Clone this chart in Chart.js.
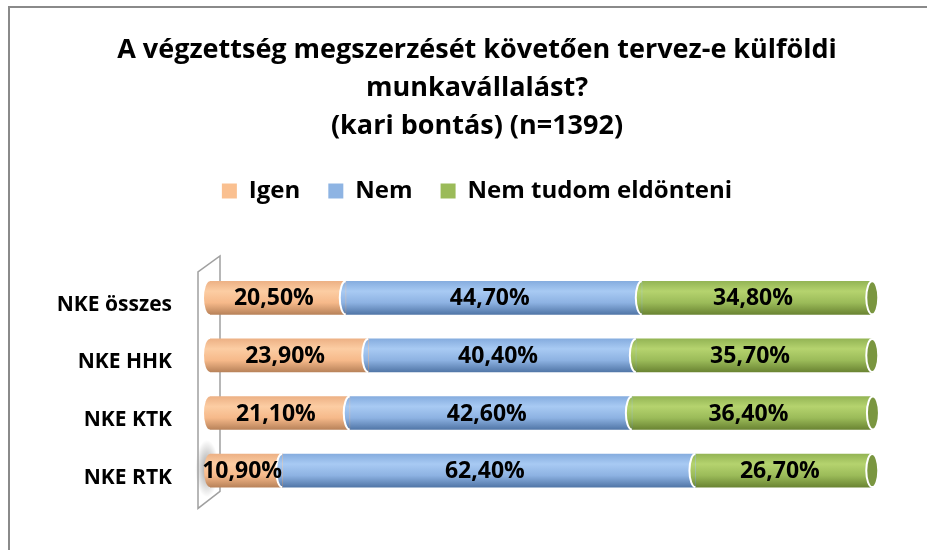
<!DOCTYPE html>
<html>
<head>
<meta charset="utf-8">
<script src="https://cdn.jsdelivr.net/npm/chart.js@4/dist/chart.umd.min.js"></script>
<style>
  body { margin: 0; background: #fff; }
  #wrap { width: 927px; height: 550px; }
</style>
</head>
<body>
<div id="wrap"><canvas id="chart" width="927" height="550"></canvas></div>
<script>
// adatok
const categories = ['NKE összes', 'NKE HHK', 'NKE KTK', 'NKE RTK'];
const seriesNames = ['Igen', 'Nem', 'Nem tudom eldönteni'];
const igen = [20.5, 23.9, 21.1, 10.9];
const nem = [44.7, 40.4, 42.6, 62.4];
const nemTudom = [34.8, 35.7, 36.4, 26.7];
const titleLines = [
    'A végzettség megszerzését követően tervez-e külföldi',
    'munkavállalást?',
    '(kari bontás) (n=1392)'
];

// színek
const legendColors = ['#FAC090', '#8EB4E3', '#9BBB59'];
const shades = [
    [[0, '#EDB185'], [0.3, '#FCCDA3'], [0.65, '#F6B98A'], [1, '#B9835A']],
    [[0, '#86ADDF'], [0.3, '#A8CAF3'], [0.65, '#8DB2E2'], [1, '#5277A8']],
    [[0, '#94B555'], [0.3, '#B5D36E'], [0.65, '#9BBB59'], [1, '#6B8533']]
];
const capColor = '#7A9640';
const FONT = '"Open Sans", Lato, sans-serif';
const BAR_H = 33;
const CAP_RX = 6;

function makeGradient(ctx, cy, h, stops) {
    const g = ctx.createLinearGradient(0, cy - h / 2, 0, cy + h / 2);
    stops.forEach(s => g.addColorStop(s[0], s[1]));
    return g;
}

// henger színátmenet soronként
function barFill(i) {
    return function (context) {
        const chart = context.chart;
        const y = chart.scales.y;
        if (!y || context.type !== 'data') return legendColors[i];
        const cy = y.getPixelForValue(context.dataIndex);
        return makeGradient(chart.ctx, cy, BAR_H, shades[i]);
    };
}

// keret
const framePlugin = {
    id: 'frame',
    beforeDraw(chart) {
        const ctx = chart.ctx;
        ctx.save();
        ctx.fillStyle = '#fff';
        ctx.fillRect(0, 0, chart.width, chart.height);
        ctx.strokeStyle = '#8a8a8a';
        ctx.lineWidth = 2;
        ctx.beginPath();
        ctx.moveTo(9, chart.height);
        ctx.lineTo(9, 7);
        ctx.lineTo(chart.width, 7);
        ctx.stroke();
        ctx.restore();
    }
};

// 3D fal bal oldalon
const wallPlugin = {
    id: 'wall',
    beforeDatasetsDraw(chart) {
        const { ctx, chartArea: a } = chart;
        ctx.save();
        // árnyék az utolsó henger mögött
        const lastBar = chart.getDatasetMeta(0).data[categories.length - 1];
        if (lastBar) {
            const sx = a.left - 3, sy = lastBar.y - 2;
            const g = ctx.createRadialGradient(sx, sy, 2, sx, sy, 26);
            g.addColorStop(0, 'rgba(0,0,0,0.35)');
            g.addColorStop(1, 'rgba(0,0,0,0)');
            ctx.save();
            ctx.translate(sx, sy);
            ctx.scale(0.45, 1.1);
            ctx.translate(-sx, -sy);
            ctx.fillStyle = g;
            ctx.fillRect(sx - 30, sy - 30, 60, 60);
            ctx.restore();
        }
        ctx.strokeStyle = '#a0a0a0';
        ctx.lineWidth = 1.5;
        ctx.beginPath();
        ctx.moveTo(a.left - 12, a.top + 3);
        ctx.lineTo(a.left - 12, a.bottom + 9);
        ctx.lineTo(a.left + 10, a.bottom - 8);
        ctx.lineTo(a.left + 10, a.top - 13);
        ctx.closePath();
        ctx.stroke();
        ctx.restore();
    }
};

function halfEllipse(ctx, x, cy, ry, fill, stroke) {
    ctx.beginPath();
    ctx.ellipse(x, cy, CAP_RX, ry, 0, Math.PI / 2, Math.PI * 1.5);
    ctx.closePath();
    ctx.fillStyle = fill;
    ctx.fill();
    if (stroke) {
        ctx.beginPath();
        ctx.ellipse(x, cy, CAP_RX, ry, 0, Math.PI / 2, Math.PI * 1.5);
        ctx.strokeStyle = stroke;
        ctx.lineWidth = 2;
        ctx.stroke();
    }
}

// henger végek és címkék
const cylinderPlugin = {
    id: 'cylinder',
    afterDatasetsDraw(chart) {
        const ctx = chart.ctx;
        const metas = seriesNames.map((s, i) => chart.getDatasetMeta(i));
        ctx.save();
        categories.forEach((c, r) => {
            const bars = metas.map(m => m.data[r]);
            const cy = bars[0].y;
            const ry = bars[0].height / 2;
            halfEllipse(ctx, bars[0].base, cy, ry, makeGradient(ctx, cy, ry * 2, shades[0]), null);
            for (let k = 1; k < bars.length; k++) {
                halfEllipse(ctx, bars[k].base, cy, ry, makeGradient(ctx, cy, ry * 2, shades[k]), '#fff');
            }
            const last = bars[bars.length - 1];
            ctx.beginPath();
            ctx.ellipse(last.x, cy, CAP_RX, ry, 0, 0, Math.PI * 2);
            ctx.fillStyle = capColor;
            ctx.fill();
            ctx.strokeStyle = '#fff';
            ctx.lineWidth = 2;
            ctx.stroke();
        });

        ctx.fillStyle = '#000';
        ctx.font = 'bold 23px ' + FONT;
        ctx.textAlign = 'center';
        ctx.textBaseline = 'middle';
        chart.data.datasets.forEach((ds, i) => {
            metas[i].data.forEach((bar, r) => {
                const txt = ds.data[r].toFixed(2).replace('.', ',') + '%';
                ctx.fillText(txt, (bar.x + bar.base) / 2 - 4, bar.y + 1);
            });
        });
        ctx.restore();
    }
};

new Chart(document.getElementById('chart'), {
    type: 'bar',
    data: {
        labels: categories,
        datasets: [
            { label: seriesNames[0], data: igen, backgroundColor: barFill(0) },
            { label: seriesNames[1], data: nem, backgroundColor: barFill(1) },
            { label: seriesNames[2], data: nemTudom, backgroundColor: barFill(2) }
        ]
    },
    options: {
        indexAxis: 'y',
        responsive: false,
        animation: false,
        events: [],
        barThickness: BAR_H,
        borderWidth: 0,
        layout: { padding: { top: 12, left: 40, right: 13, bottom: 34 } },
        scales: {
            x: {
                stacked: true,
                min: 0,
                max: 106.3,
                position: 'top',
                grid: { display: false, drawTicks: false },
                border: { display: false },
                ticks: { display: false },
                afterFit(scale) { scale.height = 56; }
            },
            y: {
                stacked: true,
                grid: { display: false, drawTicks: false },
                border: { display: false },
                ticks: {
                    color: '#000',
                    padding: 38,
                    labelOffset: 7,
                    font: { family: FONT, size: 21, weight: 'bold' }
                },
                afterFit(scale) { scale.width = 170; }
            }
        },
        plugins: {
            title: {
                display: true,
                text: titleLines,
                color: '#000',
                font: { family: FONT, size: 27, weight: 'bold', lineHeight: 38 / 27 },
                padding: { top: 19, bottom: 6 }
            },
            legend: {
                display: true,
                position: 'top',
                labels: {
                    color: '#000',
                    boxWidth: 15,
                    boxHeight: 15,
                    padding: 28,
                    font: { family: FONT, size: 24, weight: 'bold' },
                    generateLabels() {
                        return seriesNames.map((name, i) => ({
                            text: name,
                            fillStyle: legendColors[i],
                            strokeStyle: legendColors[i],
                            lineWidth: 0,
                            datasetIndex: i
                        }));
                    }
                }
            },
            tooltip: { enabled: false }
        }
    },
    plugins: [framePlugin, wallPlugin, cylinderPlugin]
});
</script>
</body>
</html>
